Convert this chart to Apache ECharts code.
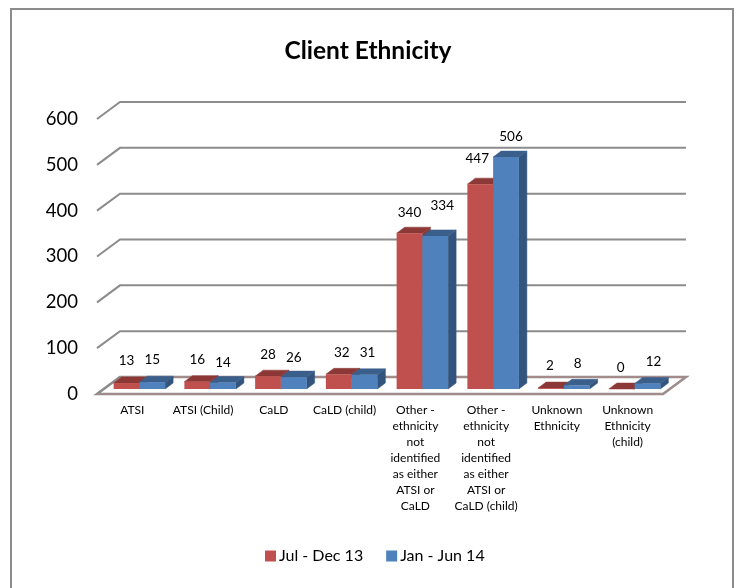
<!DOCTYPE html>
<html><head><meta charset="utf-8">
<style>html,body{margin:0;padding:0;background:#fff}#c{width:736px;height:588px}</style>
<script src="https://cdn.jsdelivr.net/npm/echarts@6/dist/echarts.min.js"></script>
</head><body><div id="c"></div>
<script>
const title = 'Client Ethnicity';
const categories = ['ATSI','ATSI (Child)','CaLD','CaLD (child)',
  'Other -\nethnicity\nnot\nidentified\nas either\nATSI or\nCaLD',
  'Other -\nethnicity\nnot\nidentified\nas either\nATSI or\nCaLD (child)',
  'Unknown\nEthnicity','Unknown\nEthnicity\n(child)'];
const julDec13 = [13,16,28,32,340,447,2,0];
const janJun14 = [15,14,26,31,334,506,8,12];
const yTicks = [0,100,200,300,400,500,600];
// hand-placed label nudges, as in the source chart [dx, dy]
const nudgeA = [[0,-1],[0,-1],[0,-1],[3,-1],[0,0],[-3,-4],[-1,-1],[-1,0]];
const nudgeB = [[0,-1],[0,1],[0,2],[3,-1],[7,-9],[5,1],[1,-1],[6,-1]];

const FONT = 'Lato, Carlito, sans-serif';
const DEPTH = {dx:23, dy:-17}, GAP = {dx:7, dy:-5}, BAR = {dx:8, dy:-6};
const BAR_FRAC = 0.364;

function poly(pts, fill){
  return {type:'polygon', shape:{points:pts}, style:{fill:fill, stroke:fill, lineWidth:0.5}};
}
function barSeries(name, vals, idx, front, top, side, nudge){
  return {
    name, type:'custom', coordinateSystem:'cartesian2d', z:5+idx,
    itemStyle:{color:front},
    data: vals.map((v,i)=>[i,v]),
    renderItem(params, api){
      const i = api.value(0), v = api.value(1);
      const w = api.size([1,0])[0]*BAR_FRAC;
      const t = api.coord([i,v]), b = api.coord([i,0]);
      const x0 = t[0]+GAP.dx+(idx-1)*w, x1 = x0+w;
      const yt = t[1]+GAP.dy, yb = b[1]+GAP.dy;
      const n = nudge[i];
      const children = [
        poly([[x1,yt],[x1+BAR.dx,yt+BAR.dy],[x1+BAR.dx,yb+BAR.dy],[x1,yb]], side),
        poly([[x0,yt],[x0+BAR.dx,yt+BAR.dy],[x1+BAR.dx,yt+BAR.dy],[x1,yt]], top)
      ];
      if(yb-yt>0.01) children.push({type:'rect', shape:{x:x0,y:yt,width:w,height:yb-yt}, style:{fill:front}});
      children.push({type:'text', z2:20, style:{text:String(v), x:(x0+x1)/2+n[0], y:yt-21+n[1],
        align:'center', verticalAlign:'middle', font:'13.5px '+FONT, fill:'#000'}});
      return {type:'group', children};
    }
  };
}
const chart = echarts.init(document.getElementById('c'));
chart.setOption({
  animation:false,
  backgroundColor:'#fff',
  title:{text:title, left:'center', top:34, textStyle:{fontFamily:FONT, fontSize:24.5, fontWeight:'bold', color:'#000'}},
  grid:{left:97, right:73, top:119, bottom:194},
  legend:{data:['Jul - Dec 13','Jan - Jun 14'], left:260, top:543, icon:'rect', itemWidth:11, itemHeight:11, itemGap:23,
    textStyle:{fontFamily:FONT, fontSize:16, color:'#000', padding:[0,0,0,-2]}},
  graphic:[{type:'rect', z:-10, shape:{x:11,y:9,width:722,height:590}, style:{fill:'#fff', stroke:'#8c8c8c', lineWidth:2}}],
  xAxis:{type:'category', data:categories, axisLine:{show:false}, axisTick:{show:false}, splitLine:{show:false},
    axisLabel:{interval:0, margin:8, fontFamily:FONT, fontSize:12, lineHeight:16, color:'#000'}},
  yAxis:{type:'value', min:0, max:600, interval:100, axisLine:{show:false}, axisTick:{show:false}, splitLine:{show:false},
    axisLabel:{margin:19, fontFamily:FONT, fontSize:18.5, color:'#000'}},
  series:[
    {type:'custom', name:'walls', coordinateSystem:'cartesian2d', z:1, silent:true, data:yTicks.map(v=>[0,v]),
     renderItem(params, api){
       const r = params.coordSys, y = api.coord([0,api.value(1)])[1];
       return {type:'polyline', shape:{points:[[r.x,y],[r.x+DEPTH.dx,y+DEPTH.dy],[r.x+r.width+DEPTH.dx,y+DEPTH.dy]]},
         style:{fill:'none', stroke:'#8c8c8c', lineWidth:2}};
     }},
    {type:'custom', name:'floor', coordinateSystem:'cartesian2d', z:2, silent:true, data:[[0,0]],
     renderItem(params, api){
       const r = params.coordSys, y = api.coord([0,0])[1];
       const pts = [[r.x,y],[r.x+DEPTH.dx,y+DEPTH.dy],[r.x+r.width+DEPTH.dx,y+DEPTH.dy],[r.x+r.width,y]];
       return {type:'group', children:[
         {type:'polygon', shape:{points:pts}, style:{fill:'#fff', stroke:'#8c8c8c', lineWidth:2.5}},
         {type:'polyline', shape:{points:[pts[0],pts[3],pts[2],pts[1]]}, style:{fill:'none', stroke:'#B98A88', lineWidth:1}}
       ]};
     }},
    barSeries('Jul - Dec 13', julDec13, 0, '#C0504D', '#8C3836', '#8C3836', nudgeA),
    barSeries('Jan - Jun 14', janJun14, 1, '#4F81BD', '#3A5F8B', '#33557D', nudgeB)
  ]
});
</script></body></html>
